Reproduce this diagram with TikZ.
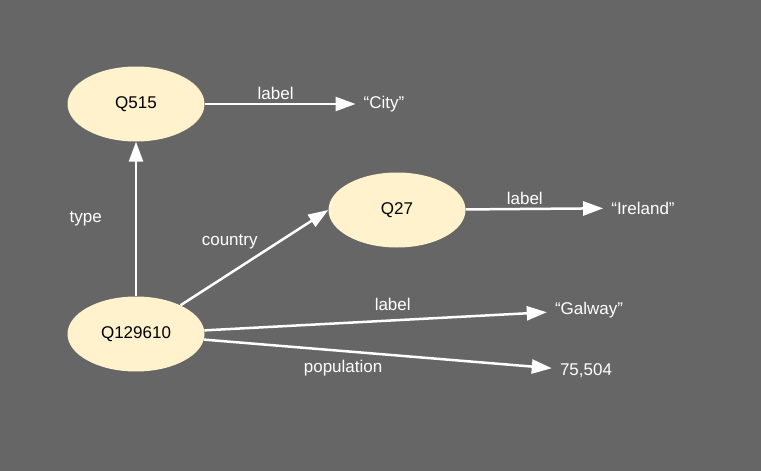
\documentclass[tikz,border=0pt]{standalone}
\usepackage{fontspec}
\setmainfont{Liberation Sans}
\usetikzlibrary{shapes.geometric,arrows.meta}
\definecolor{bggray}{HTML}{666666}
\definecolor{entityfill}{HTML}{FFF2CC}
\tikzstyle{entity}=[shape=ellipse,fill=entityfill,minimum width=137pt,minimum height=75pt,inner sep=0pt,text=black,font=\fontsize{17}{20}\selectfont]
\tikzstyle{literal}=[shape=rectangle,inner sep=8pt,text=white,font=\fontsize{17}{20}\selectfont]
\tikzstyle{relation}=[draw=white,line width=2.5pt,-{Triangle[length=20pt,width=14pt]}]
\tikzstyle{rellabel}=[text=white,inner sep=3pt,font=\fontsize{17}{20}\selectfont]

\begin{document}
\begin{tikzpicture}[x=1pt,y=-1pt]

		% background
		\fill[bggray] (0,0) rectangle (761,471);
		\useasboundingbox (0,0) rectangle (761,471);

		% entities
		\node[entity] (q515) at (136,104) {Q515};
		\node[entity] (q27) at (397,210) {Q27};

		% literals
		\node[literal] (city) at (384,104) {“City”};
		\node[literal] (ireland) at (643,208) {“Ireland”};
		\node[literal] (galway) at (589,310) {“Galway”};
		\node[literal] (pop) at (586,371) {75,504};

		% relations
		\draw[relation] (q515) -- node[rellabel,pos=0.47,above] {label} (city);
		\draw[relation] (q27) -- node[rellabel,pos=0.43,above] {label} (ireland);

		\node[entity] (q129610) at (136,334) {Q129610}
			edge [relation] node[rellabel,left=30pt] {type} (q515)
			edge [relation] node[rellabel,pos=0.55,above left] {country} (q27.west)
			edge [relation] node[rellabel,pos=0.55,above=5pt] {label} (galway)
			edge [relation] node[rellabel,pos=0.4,below=5pt] {population} (pop);

\end{tikzpicture}
\end{document}
